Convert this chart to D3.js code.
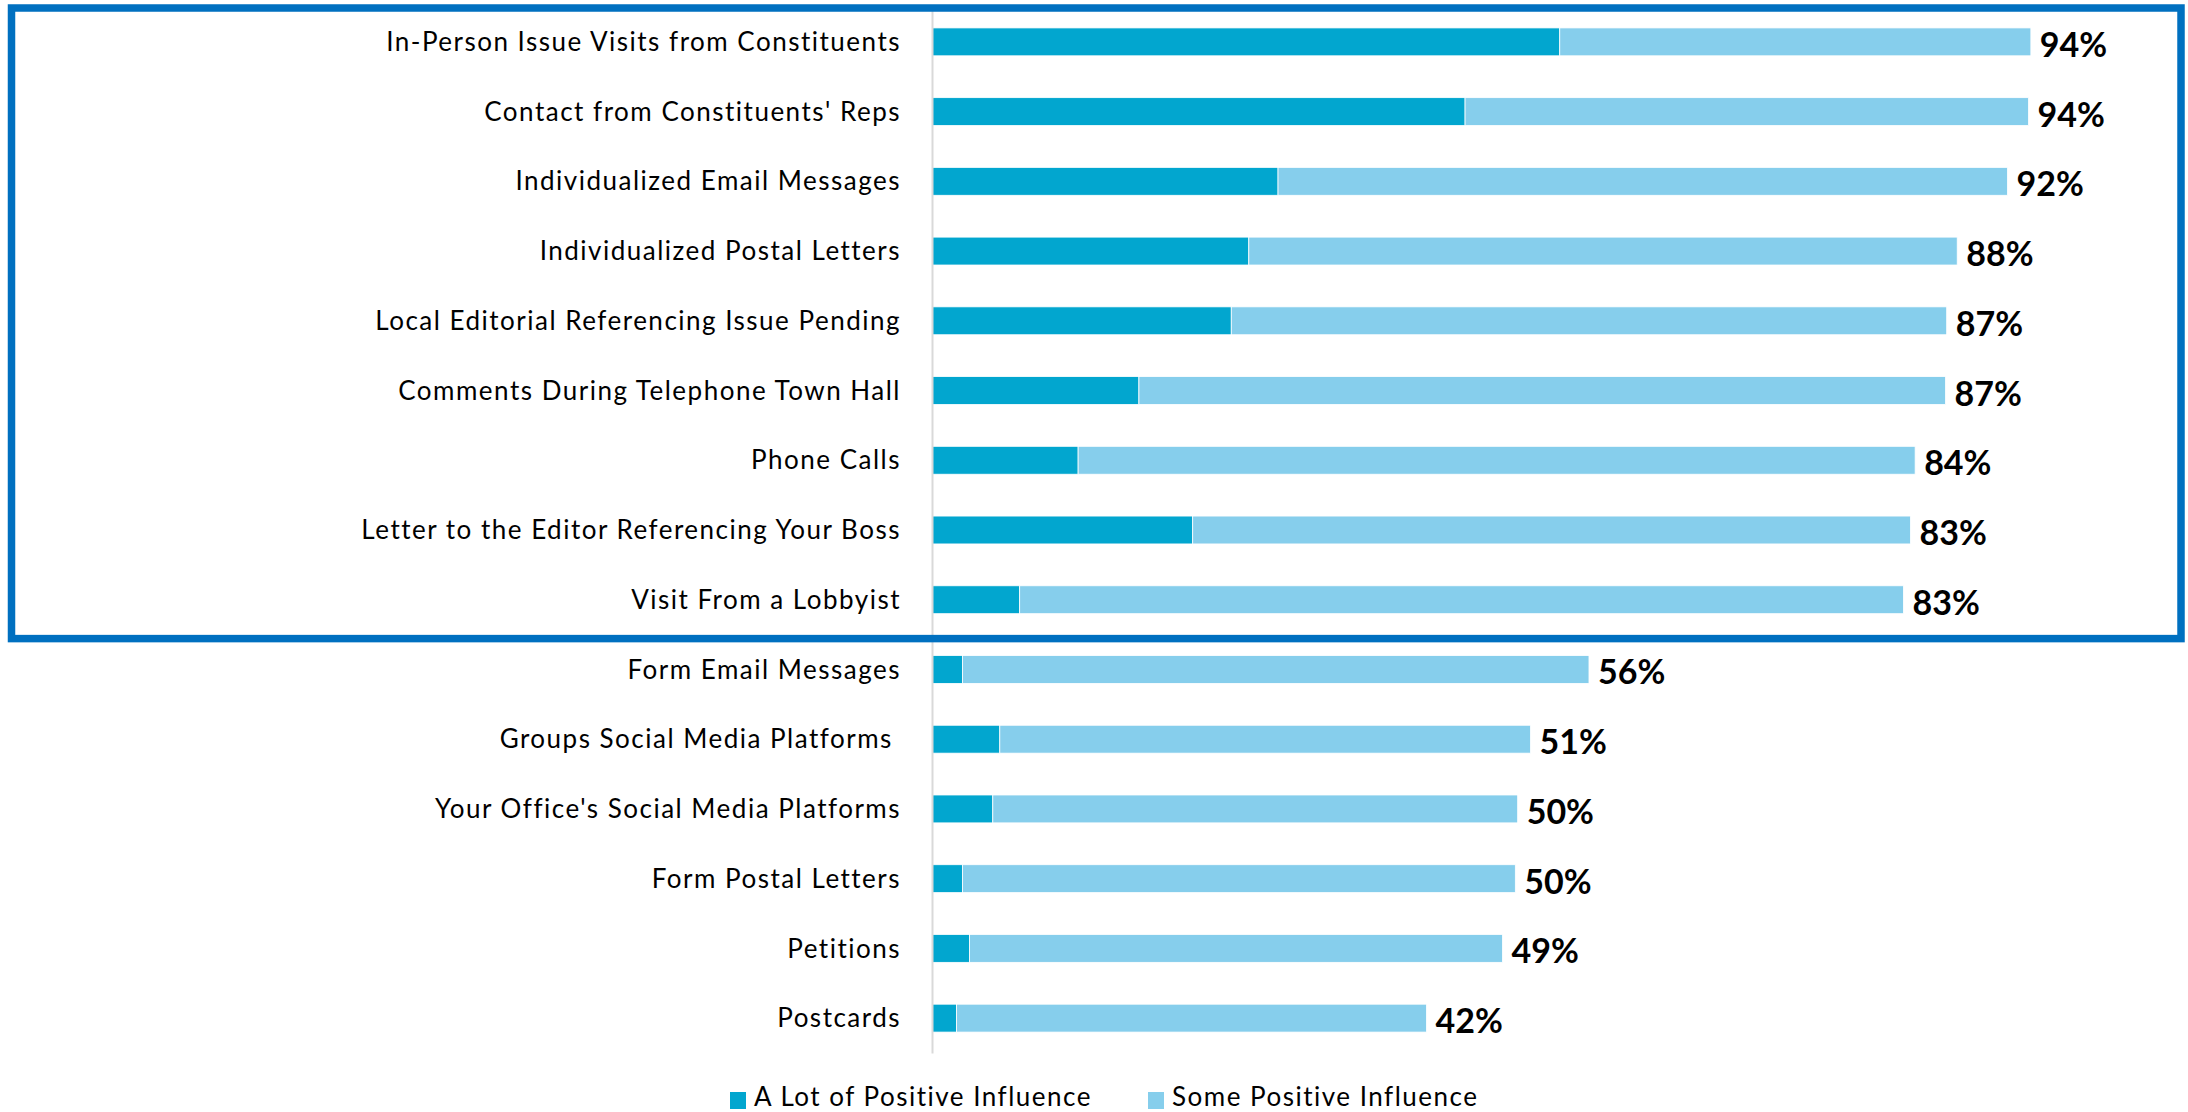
<!DOCTYPE html>
<html>
<head>
<meta charset="utf-8">
<script src="https://cdn.jsdelivr.net/npm/d3@7"></script>
<style>
  body { margin: 0; background: #fff; }
  svg { display: block; font-family: Lato, "Noto Sans", sans-serif; }
</style>
</head>
<body>
<div id="chart"></div>
<script>
// Stacked horizontal bars: share of "a lot" vs "some" positive influence per contact type.
const categories = [
  "In-Person Issue Visits from Constituents",
  "Contact from Constituents' Reps",
  "Individualized Email Messages",
  "Individualized Postal Letters",
  "Local Editorial Referencing Issue Pending",
  "Comments During Telephone Town Hall",
  "Phone Calls",
  "Letter to the Editor Referencing Your Boss",
  "Visit From a Lobbyist",
  "Form Email Messages",
  "Groups Social Media Platforms ",
  "Your Office's Social Media Platforms",
  "Form Postal Letters",
  "Petitions",
  "Postcards"
];
const aLot = [53.7, 45.6, 29.6, 27.1, 25.6, 17.7, 12.5, 22.3, 7.5, 2.6, 5.8, 5.2, 2.6, 3.2, 2.1];
const some = [40.3, 48.2, 62.4, 60.6, 61.2, 69.0, 71.6, 61.4, 75.6, 53.6, 45.4, 44.9, 47.3, 45.6, 40.2];
const totalLabels = ["94%", "94%", "92%", "88%", "87%", "87%", "84%", "83%", "83%", "56%", "51%", "50%", "50%", "49%", "42%"];
const seriesNames = ["A Lot of Positive Influence", "Some Positive Influence"];
const seriesColors = ["#02a6cf", "#86ceec"];
const highlightCount = 9; // top group boxed in blue

const width = 2188, height = 1112;
const labelFont = { size: "26px", spacing: "1.5px" };

const rows = categories.map((c, i) => ({ cat: c, aLot: aLot[i], some: some[i], label: totalLabels[i] }));

const svg = d3.select("#chart")
  .append("svg")
  .attr("width", width)
  .attr("height", height)
  .attr("viewBox", `0 0 ${width} ${height}`);

// Scales
const x = d3.scaleLinear().domain([0, 100]).range([932, 2101]);
const y = d3.scaleBand()
  .domain(categories)
  .range([7, 1053])
  .paddingInner(0.6)
  .paddingOuter(0.3);

const layers = d3.stack().keys(["aLot", "some"])(rows);

// Bars
svg.append("g")
  .selectAll("g")
  .data(layers)
  .join("g")
    .attr("fill", (d, i) => seriesColors[i])
  .selectAll("rect")
  .data(d => d)
  .join("rect")
    .attr("x", d => x(d[0]))
    .attr("y", d => y(d.data.cat))
    .attr("width", d => x(d[1]) - x(d[0]))
    .attr("height", y.bandwidth())
    .attr("stroke", "#ffffff")
    .attr("stroke-width", 0.8);

// Category axis
const yAxisG = svg.append("g")
  .attr("transform", `translate(${x(0)},0)`)
  .call(d3.axisLeft(y).tickSize(0).tickPadding(31));
yAxisG.attr("font-family", null).attr("font-size", null);
yAxisG.select(".domain").attr("stroke", "#d9d9d9").attr("stroke-width", 2);
yAxisG.selectAll("text")
  .attr("dy", "0.35em")
  .style("white-space", "pre")
  .style("font-family", "Lato, 'Noto Sans', sans-serif")
  .style("font-size", labelFont.size)
  .style("letter-spacing", labelFont.spacing)
  .style("fill", "#000");

// Total labels
svg.append("g")
  .selectAll("text")
  .data(rows)
  .join("text")
    .attr("x", d => x(d.aLot + d.some) + 9)
    .attr("y", d => y(d.cat) + y.bandwidth() / 2 + 15)
    .style("font-size", "34px")
    .style("font-weight", "bold")
    .style("fill", "#000")
    .text(d => d.label);

// Highlight box round the top group
const boxBottom = y(categories[highlightCount - 1]) + y.bandwidth() + y.step() * y.paddingInner() / 2 + 4;
svg.append("rect")
  .attr("x", 11.5)
  .attr("y", 8)
  .attr("width", 2181 - 11.5)
  .attr("height", boxBottom - 8)
  .attr("fill", "none")
  .attr("stroke", "#0070c0")
  .attr("stroke-width", 7.5);

// Legend
const legendX = [730, 1148];
const legend = svg.append("g")
  .selectAll("g")
  .data(seriesNames)
  .join("g")
    .attr("transform", (d, i) => `translate(${legendX[i]},1092)`);
legend.append("rect")
  .attr("width", 16)
  .attr("height", 17)
  .attr("fill", (d, i) => seriesColors[i]);
legend.append("text")
  .attr("x", 24)
  .attr("y", 14)
  .style("font-size", labelFont.size)
  .style("letter-spacing", labelFont.spacing)
  .style("fill", "#000")
  .text(d => d);
</script>
</body>
</html>
